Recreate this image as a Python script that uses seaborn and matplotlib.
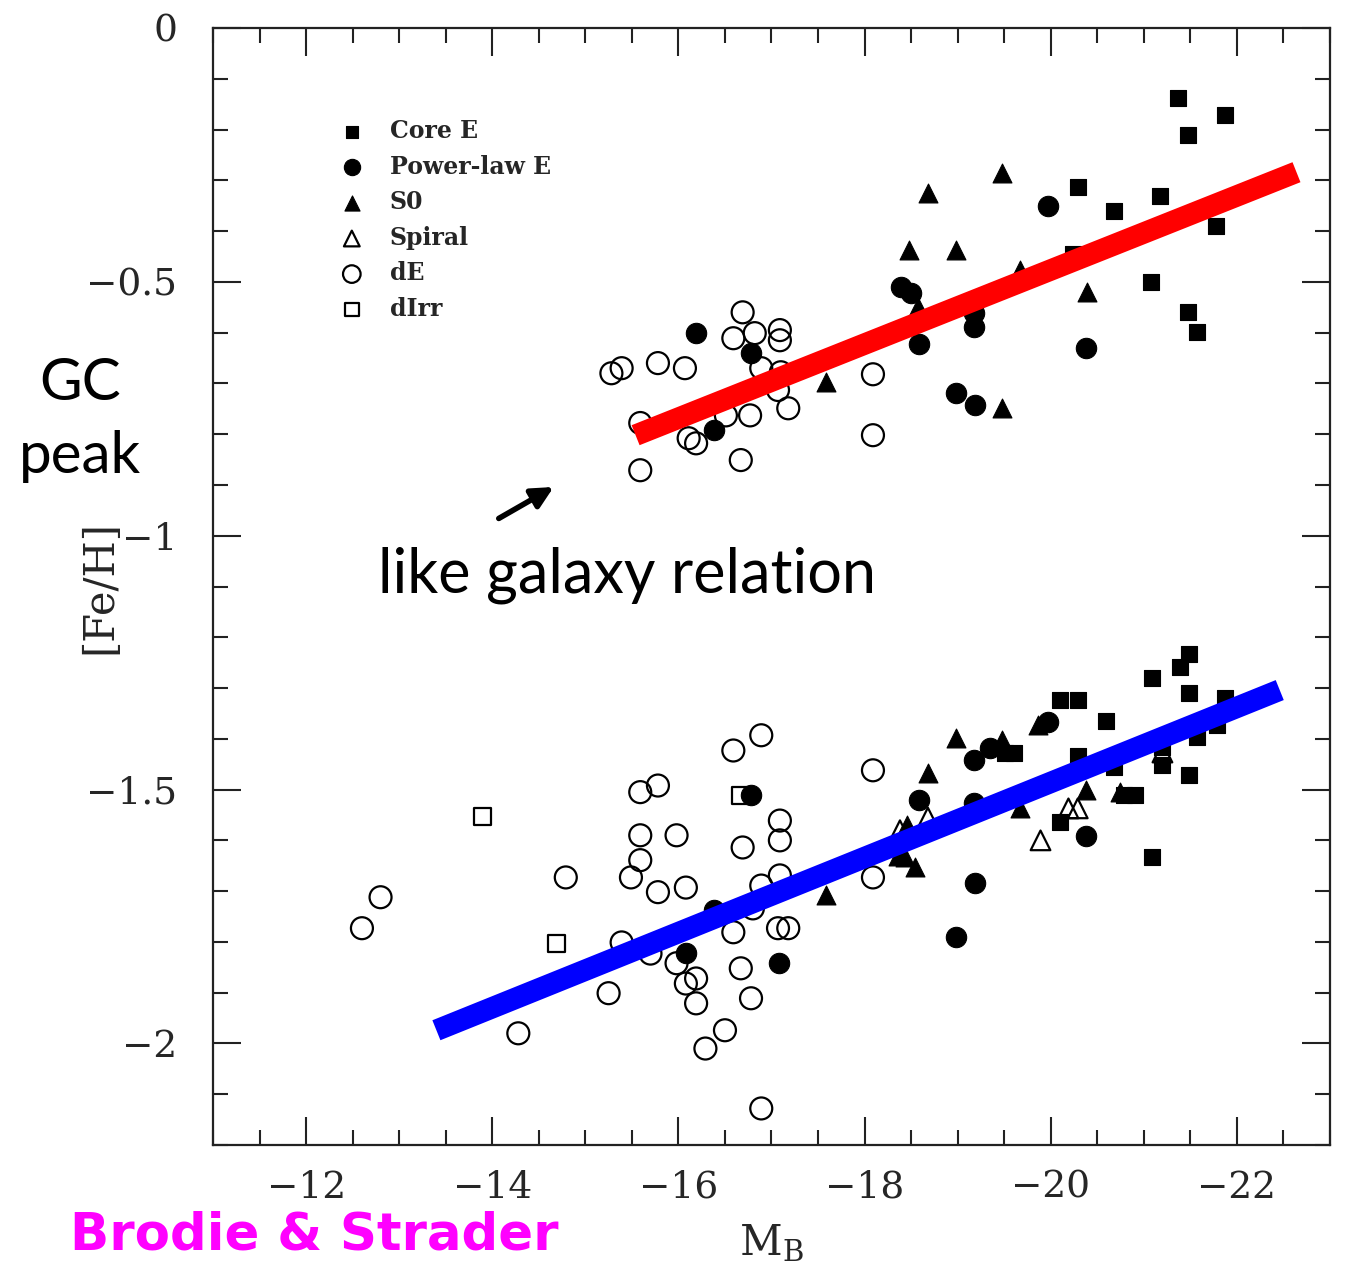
import matplotlib
matplotlib.use("Agg")
import matplotlib.pyplot as plt
import seaborn as sns
import pandas as pd
import numpy as np

# ---------------- data ----------------
core_x = [-21.37, -21.87, -21.47, -20.29, -21.17, -20.68, -21.77, -20.24, -21.08, -21.47, -21.57,
          -21.49, -21.39, -21.09, -20.10, -20.29, -20.59, -21.49, -21.87, -21.79, -21.57,
          -19.51, -19.61, -20.29, -20.68, -21.20, -21.20, -21.49, -20.79, -20.90, -20.10, -21.09]
core_y = [-0.138, -0.171, -0.211, -0.313, -0.331, -0.361, -0.390, -0.445, -0.500, -0.560, -0.599,
          -1.232, -1.259, -1.281, -1.324, -1.324, -1.364, -1.310, -1.320, -1.373, -1.397,
          -1.427, -1.427, -1.433, -1.456, -1.452, -1.417, -1.472, -1.511, -1.511, -1.563, -1.633]

plaw_x = [-19.97, -16.19, -16.78, -18.39, -18.50, -18.58, -19.18, -19.18, -18.98, -19.19, -20.38, -16.38,
          -19.97, -19.18, -19.35, -18.58, -19.19, -18.98, -20.38, -16.78, -16.08, -17.08, -16.38, -19.18]
plaw_y = [-0.351, -0.601, -0.640, -0.510, -0.522, -0.623, -0.562, -0.589, -0.719, -0.743, -0.631, -0.792,
          -1.367, -1.442, -1.419, -1.521, -1.683, -1.791, -1.592, -1.511, -1.821, -1.842, -1.738, -1.527]

s0_x = [-19.48, -18.68, -18.48, -18.98, -19.67, -20.39, -18.57, -17.59, -19.48,
        -18.98, -18.68, -19.48, -19.86, -19.67, -20.38, -17.59, -18.46, -18.43, -18.54, -18.36, -20.74]
s0_y = [-0.286, -0.325, -0.437, -0.437, -0.477, -0.520, -0.550, -0.698, -0.749,
        -1.399, -1.468, -1.403, -1.373, -1.537, -1.500, -1.708, -1.570, -1.633, -1.653, -1.630, -1.505]

spiral_x = [-19.89, -20.19, -20.29, -18.68, -18.38, -21.20]
spiral_y = [-1.600, -1.537, -1.537, -1.555, -1.580, -1.427]

de_x = [-15.28, -15.39, -15.78, -16.07, -16.69, -16.59, -16.82, -17.09, -17.09, -16.89, -17.10,
        -17.07, -17.18, -16.77, -16.51, -15.59, -16.11, -16.19, -16.67, -15.59, -18.09, -18.09,
        -12.60, -12.80, -14.28, -14.79, -15.25, -16.89, -16.59, -15.59, -15.78, -17.09, -17.09,
        -16.69, -15.59, -15.98, -15.59, -15.49, -15.78, -16.08, -16.89, -17.09, -16.80, -16.59,
        -17.07, -17.18, -15.39, -15.70, -15.98, -16.08, -16.19, -16.19, -16.67, -16.78, -16.50,
        -16.29, -16.89, -18.09, -18.09]
de_y = [-0.680, -0.670, -0.660, -0.670, -0.560, -0.611, -0.601, -0.595, -0.615, -0.670, -0.678,
        -0.713, -0.749, -0.763, -0.763, -0.778, -0.808, -0.818, -0.851, -0.871, -0.682, -0.802,
        -1.773, -1.712, -1.980, -1.673, -1.901, -1.393, -1.423, -1.505, -1.492, -1.561, -1.600,
        -1.614, -1.590, -1.590, -1.639, -1.673, -1.702, -1.693, -1.689, -1.669, -1.734, -1.781,
        -1.773, -1.773, -1.801, -1.823, -1.842, -1.882, -1.872, -1.921, -1.852, -1.911, -1.974,
        -2.010, -2.128, -1.462, -1.673]

dirr_x = [-13.89, -14.69, -16.67]
dirr_y = [-1.553, -1.803, -1.511]

red_x = [-15.54, -22.64]
red_y = [-0.802, -0.284]
blue_x = [-13.40, -22.46]
blue_y = [-1.974, -1.304]

xticks = [-12, -14, -16, -18, -20, -22]
xtick_labels = ["\u221212", "\u221214", "\u221216", "\u221218", "\u221220", "\u221222"]
yticks = [0, -0.5, -1, -1.5, -2]
ytick_labels = ["0", "\u22120.5", "\u22121", "\u22121.5", "\u22122"]

# ---------------- plotting ----------------
sns.set_style("ticks")
plt.rcParams["mathtext.fontset"] = "dejavuserif"

W, H = 1345, 1266
fig = plt.figure(figsize=(W / 100, H / 100), dpi=100)
fig.patch.set_facecolor("white")
ax = fig.add_axes([213 / W, 1 - 1145 / H, 1117 / W, 1117 / H])

groups = [
    ("Core E", core_x, core_y, "s", True, 135),
    ("Power-law E", plaw_x, plaw_y, "o", True, 215),
    ("S0", s0_x, s0_y, "^", True, 185),
    ("Spiral", spiral_x, spiral_y, "^", False, 200),
    ("dE", de_x, de_y, "o", False, 250),
    ("dIrr", dirr_x, dirr_y, "s", False, 150),
]
for name, xs, ys, mk, filled, s in groups:
    df = pd.DataFrame({"MB": xs, "FeH": ys})
    if filled:
        sns.scatterplot(data=df, x="MB", y="FeH", marker=mk, s=s, color="black",
                        edgecolor="black", linewidth=0.8, label=name, ax=ax, zorder=2)
    else:
        sns.scatterplot(data=df, x="MB", y="FeH", marker=mk, s=s, facecolor="none",
                        edgecolor="black", linewidth=1.6, label=name, ax=ax, zorder=2)

sns.lineplot(x=red_x, y=red_y, color="#FF0000", lw=15.5, sort=False, ax=ax,
             solid_capstyle="butt", zorder=3)
sns.lineplot(x=blue_x, y=blue_y, color="#0000FF", lw=15.5, sort=False, ax=ax,
             solid_capstyle="butt", zorder=3)

ax.set_xlim(-11, -23)
ax.set_ylim(-2.2, 0)
ax.set_xticks(xticks)
ax.set_xticklabels(xtick_labels)
ax.set_yticks(yticks)
ax.set_yticklabels(ytick_labels)
ax.xaxis.set_minor_locator(matplotlib.ticker.MultipleLocator(0.5))
ax.yaxis.set_minor_locator(matplotlib.ticker.MultipleLocator(0.1))
ax.tick_params(which="both", direction="in", top=True, right=True, width=1.5, color="#222222")
ax.tick_params(which="major", length=20)
ax.tick_params(which="minor", length=11)
ax.tick_params(axis="y", which="major", pad=26)
ax.tick_params(axis="x", which="major", pad=18)
for lab in ax.get_xticklabels() + ax.get_yticklabels():
    lab.set_family("DejaVu Serif")
    lab.set_fontsize(27)
for sp in ax.spines.values():
    sp.set_linewidth(1.6)
    sp.set_color("#222222")

ax.set_xlabel(r"M$_{\rm B}$", fontsize=30, family="DejaVu Serif")
ax.set_ylabel("[Fe/H]", fontsize=30, family="DejaVu Serif")
ax.xaxis.set_label_coords(0.5, -(1222 - 1145) / 1117)
ax.yaxis.set_label_coords(-(213 - 120) / 1117, 0.5)

leg = ax.legend(loc="upper left", bbox_to_anchor=((340 - 213) / 1117, 1 - (119 - 28) / 1117),
                frameon=False, borderpad=0, borderaxespad=0, handlelength=1.0,
                handletextpad=1.1, labelspacing=0.49, markerscale=0.8,
                prop={"family": "DejaVu Serif", "weight": "bold", "size": 17})

# annotation arrow
ax.annotate("", xy=(-14.66, -0.904), xytext=(-14.07, -0.966),
            arrowprops=dict(arrowstyle="-|>", lw=4, color="black", mutation_scale=32,
                            shrinkA=0, shrinkB=0))

# overlay texts
fig.text(80 / W, 1 - 400 / H, "GC", ha="center", va="baseline", fontsize=42,
         family="Lato", color="black")
fig.text(80 / W, 1 - 473 / H, "peak", ha="center", va="baseline", fontsize=42,
         family="Lato", color="black")
fig.text(378 / W, 1 - 592 / H, "like galaxy relation", ha="left", va="baseline",
         fontsize=44, family="Lato", color="black")
fig.text(70 / W, 1 - 1249 / H, "Brodie & Strader", ha="left", va="baseline",
         fontsize=37, family="DejaVu Sans", weight="bold", color="#FF00FF")

fig.savefig("out.png", dpi=100, facecolor="white")
